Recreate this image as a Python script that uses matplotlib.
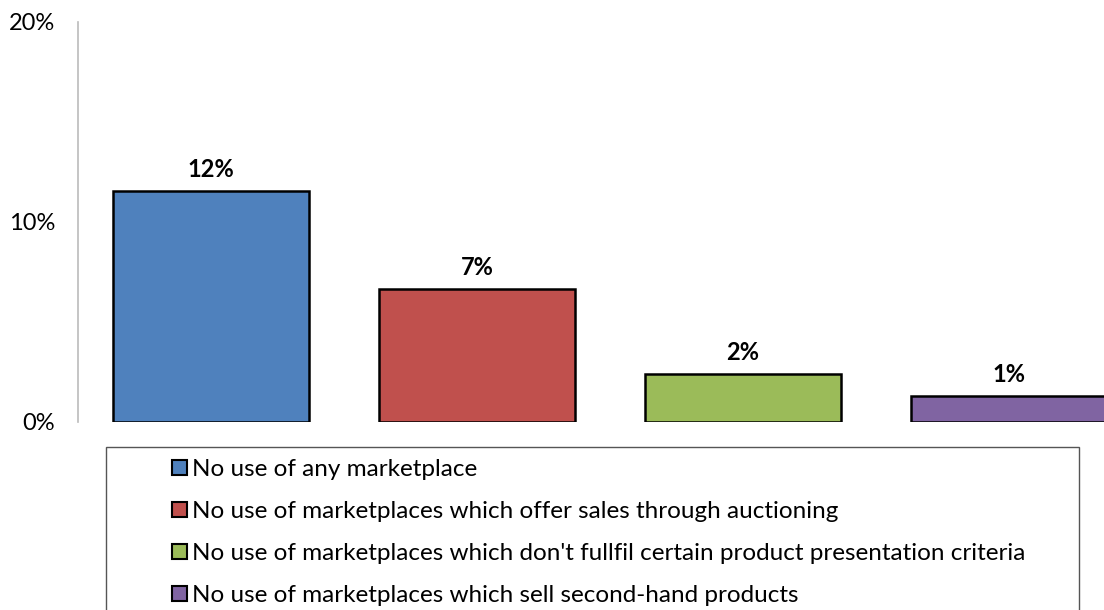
import matplotlib.pyplot as plt
from matplotlib.patches import Patch, Rectangle

plt.rcParams['font.family'] = ['Lato', 'DejaVu Sans']

categories = [
    "No use of any marketplace",
    "No use of marketplaces which offer sales through auctioning",
    "No use of marketplaces which don't fullfil certain product presentation criteria",
    "No use of marketplaces which sell second-hand products",
]
values = [11.55, 6.65, 2.4, 1.3]
labels = ["12%", "7%", "2%", "1%"]
colors = ["#4F81BD", "#C0504D", "#9BBB59", "#8064A2"]
yticks = [0, 10, 20]

W, H = 1104, 610
fig = plt.figure(figsize=(W / 100, H / 100), dpi=100)
# plot area runs past the right edge, like the cropped original
ax = fig.add_axes([78 / W, (H - 422) / H, (1142 - 78) / W, 400 / H])

x = range(len(values))
ax.bar(x, values, width=0.737, color=colors, edgecolor="black", linewidth=1.8)
for xi, v, lab in zip(x, values, labels):
    ax.text(xi, v + 0.5, lab, ha="center", va="bottom", fontsize=17, fontweight="bold")

ax.set_xlim(-0.5, len(values) - 0.5)
ax.set_ylim(0, 20)
ax.set_yticks(yticks)
ax.set_yticklabels([f"{t}%" for t in yticks], fontsize=17)
ax.tick_params(axis="y", length=0, pad=16.5)
ax.set_xticks([])
for s in ["top", "right", "bottom"]:
    ax.spines[s].set_visible(False)
ax.spines["left"].set_color("#BBBBBB")
ax.spines["left"].set_linewidth(1.2)

# legend frame, cut at the bottom like the original
fig.add_artist(Rectangle((106 / W, -0.05), (1079 - 106) / W, (H - 447) / H + 0.05,
                         transform=fig.transFigure, fill=False,
                         edgecolor="#555555", linewidth=1.0))
handles = [Patch(facecolor=c, edgecolor="black", linewidth=1.5) for c in colors]
fig.legend(handles, categories, loc="upper left", bbox_to_anchor=(160 / W, (H - 447) / H),
           frameon=False, fontsize=17.5, handlelength=0.6, handleheight=0.6,
           handletextpad=0.22, labelspacing=0.86, borderpad=0)

fig.savefig("out.png", dpi=100)
